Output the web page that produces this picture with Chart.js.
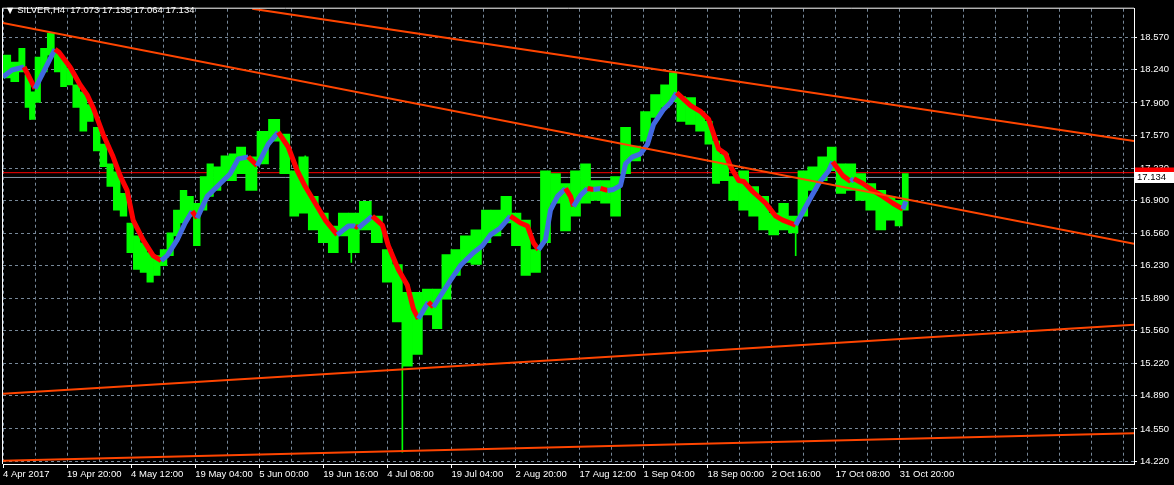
<!DOCTYPE html>
<html>
<head>
<meta charset="utf-8">
<script src="https://cdn.jsdelivr.net/npm/chart.js@4.4.1/dist/chart.umd.min.js"></script>
<style>
  body { margin: 0; background: #000; }
  #wrap { position: relative; width: 1174px; height: 485px; }
  #title { position: absolute; left: 7px; top: 4px; color: #fff; font: 9.5px "Liberation Sans", Arial, sans-serif; line-height: 12px; white-space: pre; }
  #title .tri { font: 8px "DejaVu Sans", sans-serif; margin-right: 4px; }
</style>
</head>
<body>
<div id="wrap">
<canvas id="silverChart" width="1174" height="485"></canvas>
<div id="title"><span class="tri">▼</span>SILVER,H4  17.073 17.135 17.064 17.134</div>
</div>

<script>
// axis text
var xLabels = ['4 Apr 2017', '19 Apr 20:00', '4 May 12:00', '19 May 04:00', '5 Jun 00:00', '19 Jun 16:00',
  '4 Jul 08:00', '19 Jul 04:00', '2 Aug 20:00', '17 Aug 12:00', '1 Sep 04:00', '18 Sep 00:00',
  '2 Oct 16:00', '17 Oct 08:00', '31 Oct 20:00'];
var yTicks = [18.570, 18.240, 17.900, 17.570, 17.230, 16.900, 16.560, 16.230, 15.890, 15.560, 15.220, 14.890, 14.550, 14.220];

// H4 price range read in short stretches of bars (bar index of stretch centre)
var barIdx = [3.5, 12, 19.5, 24.5, 29.5, 34.5, 40.5, 48, 54.5, 60.5, 66.5, 73, 80.5, 87, 93.5, 100.5, 107, 113.5, 120.5, 127,
  133.5, 140.5, 147, 153.5, 160.5, 167, 173.5, 180.5, 187, 193.5, 200.5, 207, 213.5, 222, 229.5, 237, 248, 259.5, 271, 282,
  291, 300, 310, 320, 330, 340, 350, 362, 374, 384, 394, 404, 414, 424, 434, 443, 452, 462, 473, 483,
  492, 503, 513, 522, 532, 542, 552, 562, 572, 582, 592, 602, 612, 622, 632, 642, 652, 662, 669.5, 677,
  687, 697, 705.5, 712, 720, 730, 740, 750, 760, 770, 780, 789.5, 799, 809, 819, 828, 837, 847, 857, 867,
  877, 887, 895.5, 901.5];
var priceHigh = [18.391, 18.320, 18.462, 18.188, 18.015, 18.370, 18.462, 18.614, 18.421, 18.360, 18.259, 18.086, 18.015, 17.883, 17.650, 17.477, 17.274, 17.193, 16.970, 16.666,
  16.534, 16.463, 16.361, 16.331, 16.392, 16.564, 16.798, 17.001, 16.940, 16.869, 17.143, 17.274, 17.244, 17.356, 17.376, 17.447, 17.346, 17.609, 17.731, 17.579,
  17.203, 17.346, 16.940, 16.767, 16.635, 16.767, 16.767, 16.889, 16.737, 16.392, 16.240, 15.955, 15.955, 15.986, 15.986, 16.341, 16.392, 16.534, 16.595, 16.798,
  16.798, 16.940, 16.767, 16.696, 16.392, 17.203, 17.173, 17.072, 17.203, 17.274, 17.102, 17.102, 17.143, 17.650, 17.457, 17.812, 17.985, 18.086, 18.208, 17.965,
  17.954, 17.812, 17.711, 17.508, 17.376, 17.143, 17.203, 17.041, 16.940, 16.767, 16.869, 16.737, 17.203, 17.244, 17.346, 17.447, 17.274, 17.274, 17.173, 17.072,
  17.001, 16.940, 16.899, 17.173];
var priceLow = [18.157, 18.117, 18.218, 17.853, 17.731, 17.904, 18.218, 18.391, 18.218, 18.066, 18.086, 17.853, 17.609, 17.711, 17.406, 17.244, 17.041, 16.798, 16.737, 16.361,
  16.189, 16.158, 16.057, 16.128, 16.229, 16.331, 16.534, 16.666, 16.737, 16.432, 16.798, 16.940, 17.001, 17.102, 17.102, 17.173, 17.001, 17.274, 17.508, 17.173,
  16.737, 16.767, 16.595, 16.463, 16.361, 16.534, 16.361, 16.595, 16.463, 16.057, 15.651, 15.194, 15.316, 15.722, 15.580, 15.884, 16.128, 16.260, 16.240, 16.463,
  16.534, 16.666, 16.432, 16.128, 16.158, 16.463, 16.869, 16.585, 16.737, 16.869, 16.899, 16.869, 16.737, 17.173, 17.305, 17.508, 17.751, 17.853, 17.914, 17.711,
  17.680, 17.609, 17.477, 17.072, 17.102, 16.899, 16.798, 16.737, 16.595, 16.544, 16.595, 16.564, 16.737, 17.001, 17.102, 17.203, 16.970, 17.001, 16.899, 16.798,
  16.595, 16.696, 16.635, 16.798];

// single long wicks
var wickIdx = [27, 302, 348, 399, 792];
var wickHigh = [18.086, 17.356, 16.716, 15.854, 16.716];
var wickLow = [17.731, 16.970, 16.260, 14.312, 16.331];

// moving average
var maIdx = [0, 9, 21, 32, 52, 56, 67, 77, 84, 90, 100, 110, 117, 124, 130, 140, 150, 158, 164, 174,
  182, 189, 194, 204, 214, 227, 235, 245, 254, 265, 275, 285, 294, 302, 312, 322, 334, 345, 352, 355,
  369, 379, 385, 395, 404, 410, 415, 425, 430, 447, 457, 470, 479, 487, 497, 507, 517, 524, 530, 535,
  542, 547, 554, 562, 567, 570, 577, 584, 590, 597, 604, 610, 617, 622, 629, 637, 644, 650, 660, 667,
  673, 687, 697, 705, 710, 715, 722, 727, 735, 740, 749, 762, 772, 779, 792, 805, 815, 825, 829, 839,
  847, 850, 859, 869, 879, 889, 899, 902];
var maVal = [18.167, 18.238, 18.269, 18.046, 18.452, 18.421, 18.269, 18.086, 17.985, 17.853,
  17.579, 17.346, 17.153, 17.001, 16.696, 16.493, 16.331, 16.280, 16.331, 16.493,
  16.666, 16.787, 16.716, 16.940, 17.041, 17.173, 17.325, 17.346, 17.254, 17.477,
  17.599, 17.447, 17.203, 17.041, 16.869, 16.696, 16.544, 16.635, 16.635, 16.615,
  16.737, 16.645, 16.432, 16.189, 16.026, 15.783, 15.681, 15.854, 15.803, 16.077,
  16.229, 16.361, 16.432, 16.544, 16.615, 16.737, 16.666, 16.635, 16.463, 16.392,
  16.493, 16.798, 16.940, 17.021, 16.940, 16.838, 16.950, 17.021, 17.011, 17.021,
  17.001, 17.011, 17.051, 17.274, 17.346, 17.376, 17.477, 17.680, 17.833, 17.904,
  18.005, 17.873, 17.812, 17.731, 17.579, 17.427, 17.376, 17.244, 17.102, 17.092,
  16.990, 16.869, 16.737, 16.696, 16.645, 16.889, 17.072, 17.203, 17.295, 17.153,
  17.092, 17.122, 17.072, 17.001, 16.940, 16.869, 16.808, 16.889];

// trend lines
var trendStartIdx = [249, 0, 0, 0];
var trendStartVal = [18.868, 18.720, 14.913, 14.223];
var trendEndIdx = [1130, 1130, 1130, 1130];
var trendEndVal = [17.508, 16.453, 15.620, 14.507];

var bidPrice = 17.134;
var askPrice = 17.183;

var gridIdx = [];
for (var g = 0; g <= 1120; g += 32) gridIdx.push(g);

var FONT = {family: 'Liberation Sans', size: 9.5};
var GRID = '#778899';

var datasets = [];
for (var t = 0; t < trendStartIdx.length; t++) {
  datasets.push({
    type: 'line', order: 0, clip: 0,
    data: [{x: trendStartIdx[t], y: trendStartVal[t]}, {x: trendEndIdx[t], y: trendEndVal[t]}],
    borderColor: '#ff4500', borderWidth: 2, pointRadius: 0
  });
}
datasets.push({
  type: 'line', order: 1, clip: 0,
  data: maIdx.map((x, i) => ({x: x, y: maVal[i]})),
  borderWidth: 5, pointRadius: 0, borderJoinStyle: 'round',
  borderColor: '#ff0000',
  segment: {
    borderColor: ctx => ctx.p1.parsed.y >= ctx.p0.parsed.y ? '#4169e1' : '#ff0000'
  }
});
datasets.push({
  // grouped so that 'flex' widths are worked out from neighbouring stretches
  type: 'bar', order: 2, grouped: true, clip: 0,
  data: barIdx.map((x, i) => ({x: x, y: [priceLow[i], priceHigh[i]]})),
  backgroundColor: '#00ff00', borderWidth: 0,
  barThickness: 'flex', barPercentage: 1, categoryPercentage: 1
});
datasets.push({
  type: 'bar', order: 2, grouped: false, clip: 0,
  data: wickIdx.map((x, i) => ({x: x, y: [wickLow[i], wickHigh[i]]})),
  backgroundColor: '#00ff00', borderWidth: 0, barThickness: 1
});
datasets.push({
  type: 'line', order: 3, clip: 0,
  data: [{x: 0, y: askPrice}, {x: 1130, y: askPrice}],
  borderColor: '#ff0000', borderWidth: 1, pointRadius: 0
});
datasets.push({
  type: 'line', order: 3, clip: 0,
  data: [{x: 0, y: bidPrice}, {x: 1130, y: bidPrice}],
  borderColor: '#8a9aab', borderWidth: 1, pointRadius: 0
});

// white frame on the left and top, like the terminal window
var framePlugin = {
  id: 'frame',
  afterDraw(chart) {
    var a = chart.chartArea, ctx = chart.ctx;
    ctx.save();
    ctx.strokeStyle = '#fff';
    ctx.lineWidth = 1;
    ctx.beginPath();
    ctx.moveTo(a.left - 0.5, a.bottom);
    ctx.lineTo(a.left - 0.5, a.top - 0.5);
    ctx.lineTo(a.right, a.top - 0.5);
    ctx.stroke();
    ctx.restore();
  }
};

// ask / bid price tags on the price scale
var tagPlugin = {
  id: 'tags',
  afterDraw(chart) {
    var ctx = chart.ctx, y = chart.scales.y, a = chart.chartArea;
    var ya = Math.round(y.getPixelForValue(askPrice));
    var yb = Math.round(y.getPixelForValue(bidPrice));
    ctx.save();
    ctx.fillStyle = '#ff0000';
    ctx.fillRect(a.right + 1, ya - 5.5, 40, 11);
    ctx.fillStyle = '#fff';
    ctx.fillRect(a.right + 1, yb - 5, 40, 11);
    ctx.fillStyle = '#000';
    ctx.font = '9.5px "Liberation Sans"';
    ctx.textBaseline = 'middle';
    ctx.fillText(bidPrice.toFixed(3), a.right + 3, yb + 0.5);
    ctx.restore();
  }
};

new Chart('silverChart', {
  type: 'line',
  data: {datasets: datasets},
  plugins: [framePlugin, tagPlugin],
  options: {
    responsive: false,
    animation: false,
    layout: {padding: {left: 3, top: 3, right: 0, bottom: 0}, autoPadding: false},
    plugins: {legend: {display: false}, tooltip: {enabled: false}},
    scales: {
      x: {
        type: 'linear', min: 0, max: 1130, offset: false,
        afterBuildTicks: s => { s.ticks = gridIdx.map(v => ({value: v})); },
        afterFit: s => { s.height = 21; },
        ticks: {
          autoSkip: false, maxRotation: 0, align: 'start', padding: 1,
          color: '#fff', font: FONT,
          callback: v => (v % 64 === 0 && xLabels[v / 64]) ? xLabels[v / 64] : ''
        },
        grid: {
          color: GRID, lineWidth: 1, offset: false, tickLength: 4,
          tickColor: ctx => (ctx.tick && ctx.tick.value % 64 === 0 && xLabels[ctx.tick.value / 64]) ? '#fff' : 'rgba(0,0,0,0)'
        },
        border: {display: true, color: '#fff', width: 1, dash: [3, 3]}
      },
      y: {
        type: 'linear', position: 'right', min: 14.19, max: 18.868,
        afterBuildTicks: s => { s.ticks = yTicks.map(v => ({value: v})); },
        afterFit: s => { s.width = 40; },
        ticks: {color: '#fff', font: FONT, padding: 3, callback: v => v.toFixed(3)},
        grid: {color: GRID, lineWidth: 1, tickLength: 3, tickColor: '#fff'},
        border: {display: true, color: '#fff', width: 1, dash: [3, 3]}
      }
    }
  }
});
</script>
</body>
</html>
